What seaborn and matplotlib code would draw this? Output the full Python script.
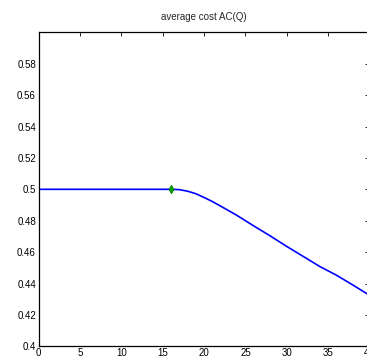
import matplotlib
matplotlib.use("Agg")
import matplotlib.pyplot as plt
from matplotlib.ticker import FuncFormatter
import numpy as np
import pandas as pd
import seaborn as sns

# average cost curve
q = [0, 16, 17, 18, 19, 20, 21, 22, 23, 24, 25, 26, 27, 28, 30, 32, 34, 36, 38, 40]
ac = [0.5, 0.5, 0.4998, 0.4988, 0.4972, 0.4948, 0.4922, 0.4893, 0.4863, 0.4833,
      0.4800, 0.4767, 0.4735, 0.4703, 0.4636, 0.4572, 0.4508, 0.4453, 0.4390, 0.4325]
q_star = [16]
ac_star = [0.5]
xticks = [0, 5, 10, 15, 20, 25, 30, 35, 40]
yticks = [0.4, 0.42, 0.44, 0.46, 0.48, 0.5, 0.52, 0.54, 0.56, 0.58]

sns.set_style("white")
plt.rcParams['font.family'] = ['Liberation Sans', 'DejaVu Sans']

df = pd.DataFrame({'Q': q, 'AC': ac})

fig = plt.figure(figsize=(3.67, 3.58), dpi=100)
ax = fig.add_axes([0.1054, 0.0327, 0.9014, 0.877])
sns.lineplot(data=df, x='Q', y='AC', color='#0000ff', linewidth=1.2, ax=ax)
sns.scatterplot(x=q_star, y=ac_star, marker='d', color='#00a000', s=18,
                edgecolor='#008000', linewidth=0.6, ax=ax, zorder=5)

ax.set_xlim(0, 40)
ax.set_ylim(0.4, 0.6)
ax.set_xticks(xticks)
ax.set_yticks(yticks)
ax.yaxis.set_major_formatter(FuncFormatter(lambda v, p: '%g' % v))
ax.tick_params(direction='in', length=3, width=0.6, labelsize=7, pad=2,
               top=True, right=True, colors='black')
ax.tick_params(axis='x', pad=1.5)
for s in ax.spines.values():
    s.set_color('black')
    s.set_linewidth(0.9)
ax.set_xlabel('')
ax.set_ylabel('')
ax.set_title('average cost AC(Q)', fontsize=7, pad=9)

fig.savefig('out.png', dpi=100)
